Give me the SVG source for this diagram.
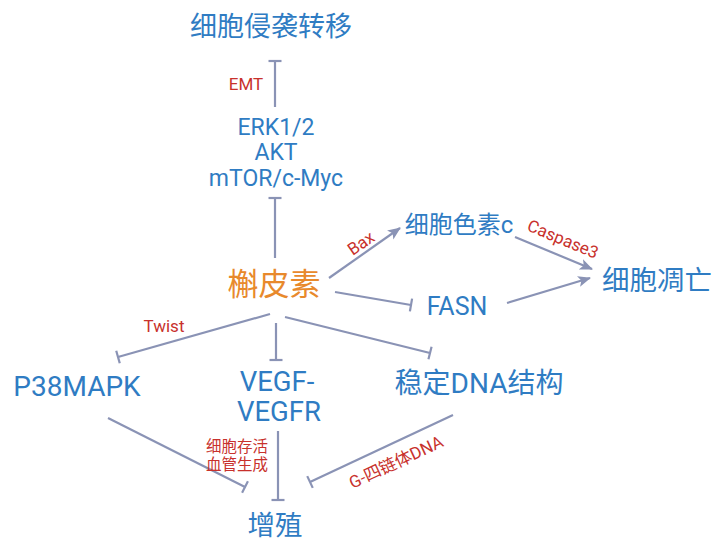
<svg xmlns="http://www.w3.org/2000/svg" width="713" height="540" viewBox="0 0 713 540">
<style>
.n{font-family:Roboto,"Noto Sans CJK SC",sans-serif;fill:#2f7cc3;text-anchor:middle;dominant-baseline:central}
.q{font-family:Roboto,"Noto Sans CJK SC",sans-serif;fill:#e8892c;font-size:31px;text-anchor:middle;dominant-baseline:central}
.l{font-family:Roboto,"Noto Sans CJK SC",sans-serif;fill:#c8312c;font-size:17px;text-anchor:middle;dominant-baseline:central}
.lc{font-size:15.5px}
.c line{stroke:#8a93b5;stroke-width:2.2;fill:none}
.inh{marker-end:url(#bar)}
.act{marker-end:url(#arr)}
</style>
<defs>
<marker id="bar" viewBox="-2 -8 4 16" markerWidth="4" markerHeight="16" refX="0" refY="0" orient="auto" markerUnits="userSpaceOnUse">
<line x1="0" y1="-6.5" x2="0" y2="6.5" stroke="#8a93b5" stroke-width="2.2"/>
</marker>
<marker id="arr" viewBox="0 -6 14 12" markerWidth="14" markerHeight="12" refX="12" refY="0" orient="auto" markerUnits="userSpaceOnUse">
<path d="M0,-5.5 L13,0 L0,5.5 L3,0 Z" fill="#8a93b5"/>
</marker>
</defs>
<g class="c" id="connectors">
<line class="inh" x1="275" y1="107" x2="275" y2="61"/>
<line class="inh" x1="275" y1="258" x2="275" y2="198"/>
<line class="act" x1="329" y1="278" x2="400" y2="228"/>
<line class="act" x1="515" y1="237" x2="592" y2="269"/>
<line class="inh" x1="335" y1="292" x2="411" y2="305"/>
<line class="act" x1="507" y1="303" x2="590" y2="278"/>
<line class="inh" x1="270" y1="314" x2="118" y2="357"/>
<line class="inh" x1="276" y1="323" x2="276" y2="360"/>
<line class="inh" x1="285" y1="317" x2="430" y2="353"/>
<line class="inh" x1="108" y1="418" x2="245" y2="487"/>
<line class="inh" x1="278" y1="431" x2="278" y2="500"/>
<line class="inh" x1="453" y1="415" x2="310" y2="482"/>
</g>
<g id="labels">
<text class="l" x="246" y="84">EMT</text>
<text class="l" transform="translate(361,243) rotate(-35)">Bax</text>
<text class="l" transform="translate(563,239) rotate(22.6)">Caspase3</text>
<text class="l" x="164" y="326">Twist</text>
<text class="l lc" x="237" y="447">细胞存活</text>
<text class="l lc" x="237" y="465">血管生成</text>
<text class="l" font-size="17" transform="translate(396,462) rotate(-25)">G-四链体DNA</text>
</g>
<g id="node-invasion"><text class="n" font-size="27" x="271" y="27">细胞侵袭转移</text></g>
<g id="node-erk">
<text class="n" font-size="23" x="276" y="127">ERK1/2</text>
<text class="n" font-size="23" x="276" y="152">AKT</text>
<text class="n" font-size="23" x="276" y="178">mTOR/c-Myc</text>
</g>
<g id="node-quercetin"><text class="q" x="274" y="284">槲皮素</text></g>
<g id="node-cytc"><text class="n" font-size="24" x="459" y="225">细胞色素c</text></g>
<g id="node-apoptosis"><text class="n" font-size="27.5" x="657" y="280">细胞凋亡</text></g>
<g id="node-fasn"><text class="n" font-size="25" x="457" y="306">FASN</text></g>
<g id="node-p38"><text class="n" font-size="28" x="77" y="386">P38MAPK</text></g>
<g id="node-vegf">
<text class="n" font-size="27.5" x="277" y="381">VEGF-</text>
<text class="n" font-size="27.5" x="279" y="411">VEGFR</text>
</g>
<g id="node-dna"><text class="n" font-size="28" x="479" y="383">稳定DNA结构</text></g>
<g id="node-prolif"><text class="n" font-size="27.5" x="275" y="525">增殖</text></g>
</svg>
